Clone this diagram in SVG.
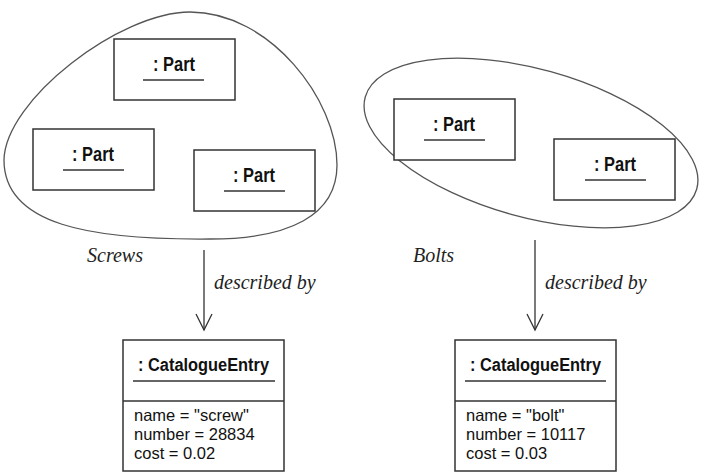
<svg xmlns="http://www.w3.org/2000/svg" width="705" height="474" viewBox="0 0 705 474">
<style>
.blob{fill:none;stroke:#555;stroke-width:1.3}
.box{fill:#fff;stroke:#333;stroke-width:1.5}
.ul{stroke:#333;stroke-width:1.3}
.pt{font-family:"Liberation Sans",Arial,sans-serif;font-weight:bold;font-size:19.5px;fill:#111;text-anchor:middle}
.ct{font-family:"Liberation Sans",Arial,sans-serif;font-weight:bold;font-size:17.5px;fill:#111;text-anchor:middle}
.at{font-family:"Liberation Sans",Arial,sans-serif;font-size:16.5px;fill:#111}
.lb{font-family:"Liberation Serif","Times New Roman",serif;font-style:italic;font-size:20px;fill:#222}
.cn{stroke:#333;stroke-width:1.3;fill:none}
</style>
<defs>
<marker id="open" viewBox="0 0 20 20" refX="18" refY="10" markerWidth="20" markerHeight="20" markerUnits="userSpaceOnUse" orient="auto">
<path d="M2,2 L18,10 L2,18" fill="none" stroke="#333" stroke-width="1.3"/>
</marker>
</defs>
<g id="screws">
<path class="blob" d="M190,12 C120,12 5,100 4,160 C4,225 90,240 210,239 C290,239 337,215 337,165 C337,100 270,12 190,12 Z"/>
<text class="lb" x="87" y="262">Screws</text>
</g>
<g id="bolts">
<ellipse class="blob" cx="531" cy="143" rx="172" ry="74" transform="rotate(15.5 531 143)"/>
<text class="lb" x="413" y="262">Bolts</text>
</g>
<g id="part1">
<rect class="box" x="114" y="39" width="121" height="61"/>
<text class="pt" x="174" y="71" textLength="42" lengthAdjust="spacingAndGlyphs">: Part</text>
<line class="ul" x1="143" y1="80" x2="204" y2="80"/>
</g>
<g id="part2">
<rect class="box" x="33" y="129" width="121" height="61"/>
<text class="pt" x="93" y="161" textLength="42" lengthAdjust="spacingAndGlyphs">: Part</text>
<line class="ul" x1="63" y1="170" x2="124" y2="170"/>
</g>
<g id="part3">
<rect class="box" x="194" y="150" width="121" height="61"/>
<text class="pt" x="254" y="182" textLength="42" lengthAdjust="spacingAndGlyphs">: Part</text>
<line class="ul" x1="224" y1="191" x2="285" y2="191"/>
</g>
<g id="part4">
<rect class="box" x="394" y="99" width="121" height="61"/>
<text class="pt" x="454" y="131" textLength="42" lengthAdjust="spacingAndGlyphs">: Part</text>
<line class="ul" x1="424" y1="140" x2="485" y2="140"/>
</g>
<g id="part5">
<rect class="box" x="554" y="139" width="121" height="61"/>
<text class="pt" x="615" y="171" textLength="42" lengthAdjust="spacingAndGlyphs">: Part</text>
<line class="ul" x1="585" y1="180" x2="646" y2="180"/>
</g>
<g id="entry1">
<rect class="box" x="123" y="340" width="161" height="131"/>
<line class="ul" x1="123" y1="401" x2="284" y2="401"/>
<text class="ct" x="203.5" y="371" textLength="131" lengthAdjust="spacingAndGlyphs">: CatalogueEntry</text>
<line class="ul" x1="133" y1="381" x2="275" y2="381"/>
<text class="at" x="134" y="421">name = "screw"</text>
<text class="at" x="134" y="440">number = 28834</text>
<text class="at" x="134" y="459">cost = 0.02</text>
</g>
<g id="entry2">
<rect class="box" x="455" y="340" width="161" height="131"/>
<line class="ul" x1="455" y1="401" x2="616" y2="401"/>
<text class="ct" x="535.5" y="371" textLength="131" lengthAdjust="spacingAndGlyphs">: CatalogueEntry</text>
<line class="ul" x1="465" y1="381" x2="606" y2="381"/>
<text class="at" x="466" y="421">name = "bolt"</text>
<text class="at" x="466" y="440">number = 10117</text>
<text class="at" x="466" y="459">cost = 0.03</text>
</g>
<g id="connectors">
<line class="cn" x1="204" y1="250" x2="204" y2="330" marker-end="url(#open)"/>
<text class="lb" x="214" y="289">described by</text>
<line class="cn" x1="535" y1="240" x2="535" y2="330" marker-end="url(#open)"/>
<text class="lb" x="545" y="289">described by</text>
</g>
</svg>
